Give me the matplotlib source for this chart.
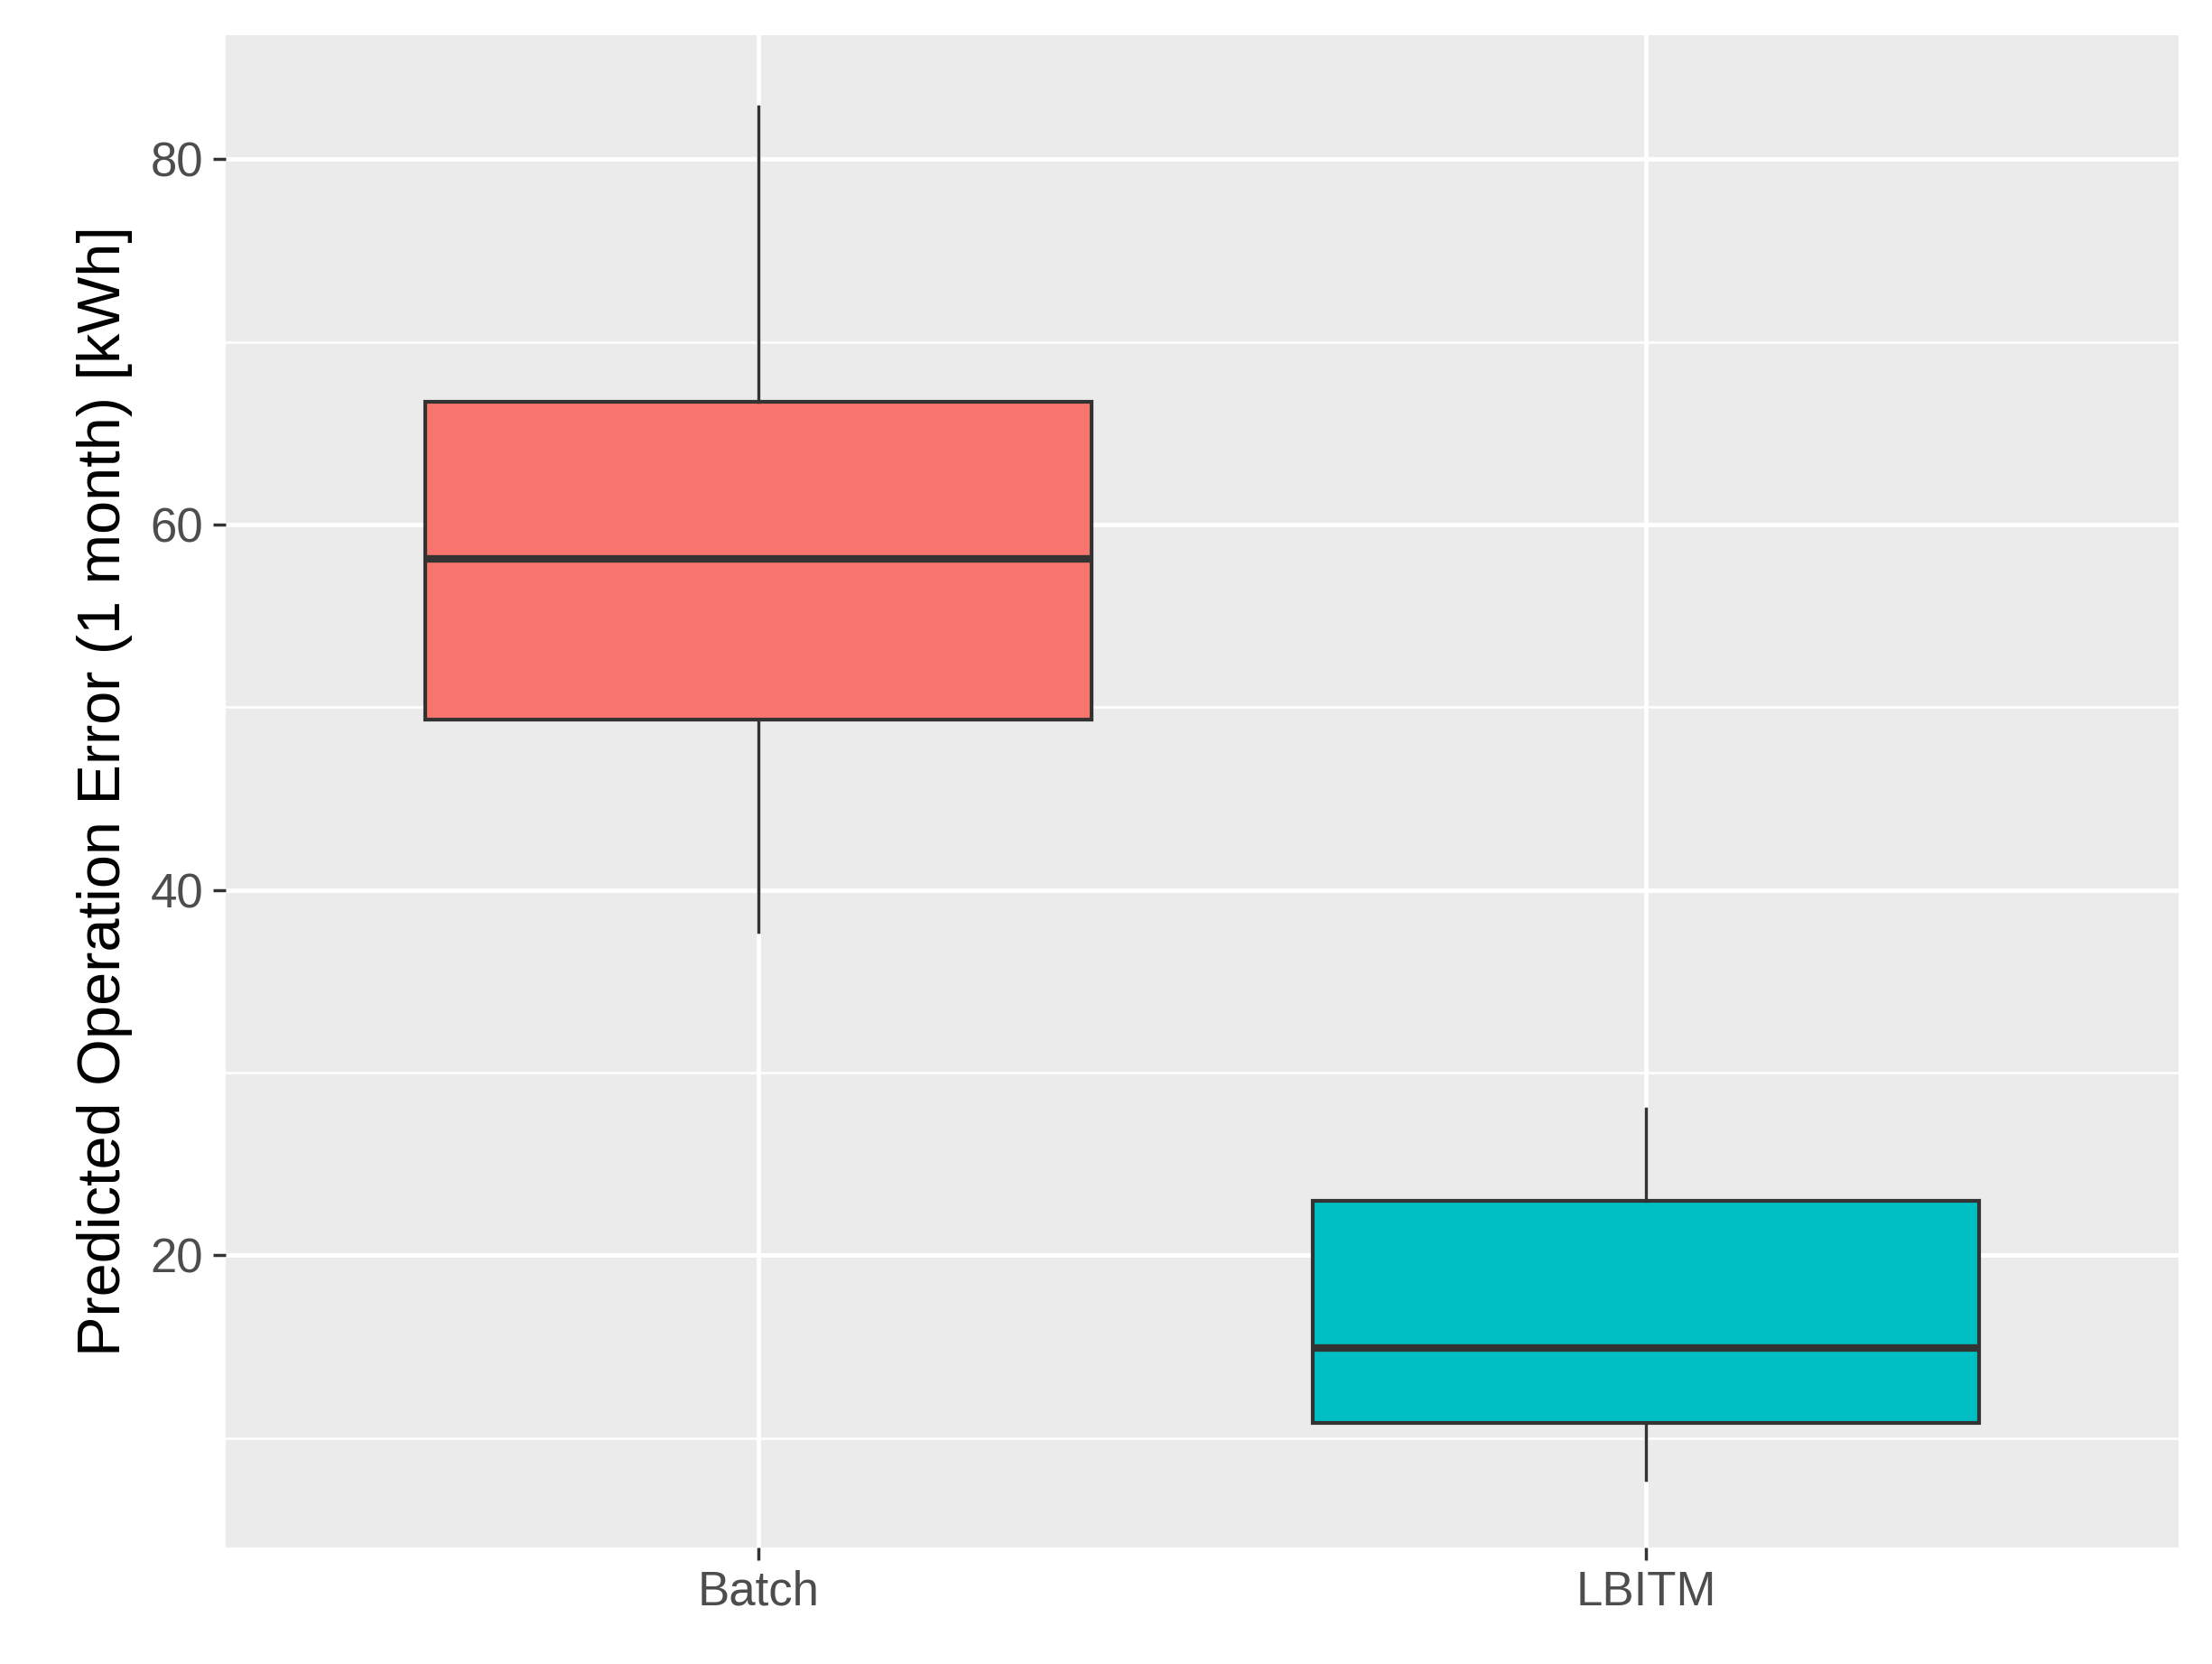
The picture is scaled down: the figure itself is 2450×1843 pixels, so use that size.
import matplotlib.pyplot as plt

groups = ['Batch', 'LBITM']
whislo = [37.7, 7.7]
q1 = [49.3, 10.8]
med = [58.1, 14.9]
q3 = [66.7, 23.0]
whishi = [82.9, 28.0]
colors = ['#F8766D', '#00BFC4']

plt.rcParams['font.family'] = ['Liberation Sans', 'DejaVu Sans']

fig = plt.figure(figsize=(24.5, 18.43), dpi=100)
ax = fig.add_axes([0.102, 0.07, 0.883, 0.909])
ax.set_facecolor('#EBEBEB')

stats = [dict(label=g, whislo=a, q1=b, med=c, q3=d, whishi=e, fliers=[])
         for g, a, b, c, d, e in zip(groups, whislo, q1, med, q3, whishi)]
bp = ax.bxp(stats, positions=[1, 2], widths=0.75, patch_artist=True,
            showcaps=False,
            boxprops=dict(edgecolor='#333333', linewidth=3),
            medianprops=dict(color='#333333', linewidth=6),
            whiskerprops=dict(color='#333333', linewidth=2.5), zorder=3)
for patch, c in zip(bp['boxes'], colors):
    patch.set_facecolor(c)

ax.set_xlim(0.4, 2.6)
ax.set_ylim(4.0, 86.8)
ax.set_yticks([20, 40, 60, 80])
ax.set_yticks([10, 30, 50, 70], minor=True)
ax.grid(True, which='major', color='white', linewidth=3.5, zorder=0)
ax.grid(True, which='minor', axis='y', color='white', linewidth=1.8, zorder=0)
ax.set_axisbelow(True)
for s in ax.spines.values():
    s.set_visible(False)
ax.tick_params(axis='both', which='major', length=10, width=2.5, color='#333333',
               labelsize=38, labelcolor='#4D4D4D', pad=8)
ax.tick_params(axis='y', which='minor', length=0)
ax.set_ylabel('Predicted Operation Error (1 month) [kWh]', fontsize=48, labelpad=14)

fig.savefig('out.png', dpi=100)
